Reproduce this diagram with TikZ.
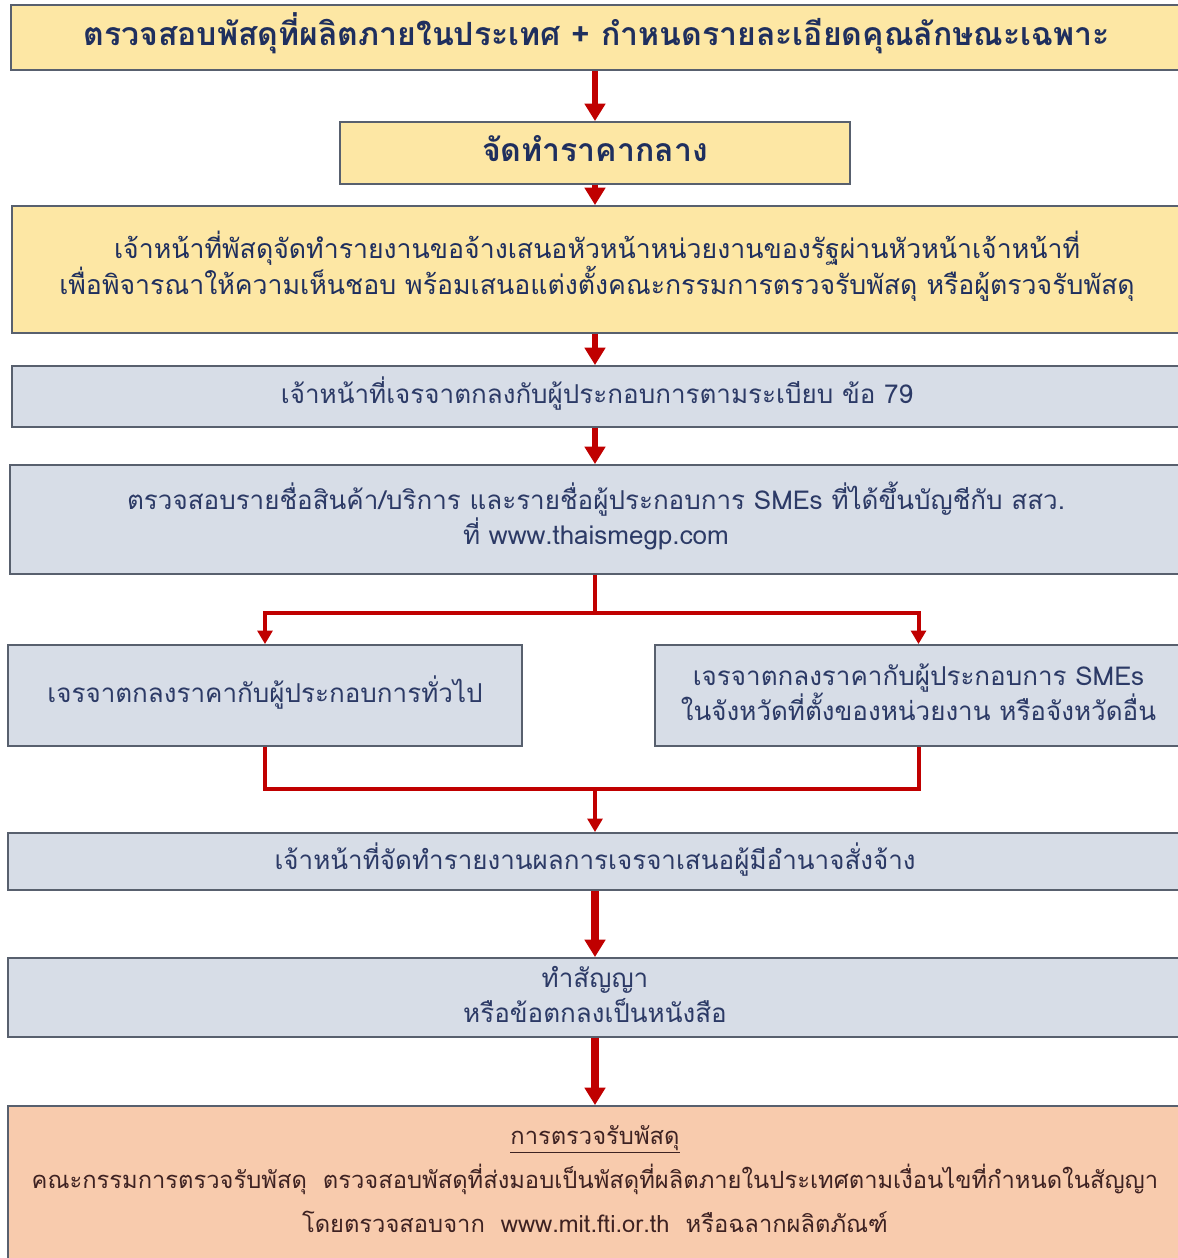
\documentclass[tikz,border=0pt]{standalone}
\usepackage{fontspec}
\setmainfont[Script=Thai]{Loma}
\usetikzlibrary{fit,arrows.meta}
\definecolor{boxline}{HTML}{58606E}
\definecolor{yfill}{HTML}{FDE7A4}
\definecolor{bfill}{HTML}{D7DDE7}
\definecolor{pfill}{HTML}{F8CBAD}
\definecolor{navy}{HTML}{1F2F5E}
\definecolor{slate}{HTML}{2C3A66}
\definecolor{brown}{HTML}{3E2222}
\definecolor{arrred}{HTML}{C00000}
\tikzset{
  boxbase/.style={draw=boxline, line width=1.4pt, inner sep=0pt},
  ybox/.style={boxbase, fill=yfill},
  bbox/.style={boxbase, fill=bfill},
  pbox/.style={boxbase, fill=pfill},
  txt/.style={align=center, inner sep=0pt, text=slate, font=\fontsize{19.5}{26}\selectfont, yshift=2.5pt},
  titletxt/.style={txt, text=navy, font=\fontsize{24}{28}\selectfont\bfseries, yshift=1pt},
  arr/.style={draw=arrred, line width=4.5pt, -{Triangle[width=15pt,length=13pt]}},
  thinarr/.style={draw=arrred, line width=3pt, -{Triangle[width=11pt,length=10pt]}},
  thinline/.style={draw=arrred, line width=3pt},
}
\begin{document}
\begin{tikzpicture}[x=0.75pt,y=-0.75pt]
\useasboundingbox (0,0) rectangle (1178,1258);
\fill[white] (0,0) rectangle (1178,1258);

\node[ybox, fit={(11,5)(1182,70)}] (b1) {};
\node[titletxt] (t1) at (b1.center)
  {ตรวจสอบพัสดุที่ผลิตภายในประเทศ + กำหนดรายละเอียดคุณลักษณะเฉพาะ};
\node[ybox, fit={(340,122)(850,184)}] (b2) {};
\node[titletxt] (t2) at (b2.center) {จัดทำราคากลาง};
\node[ybox, fit={(12,206)(1182,333)}] (b3) {};
\node[txt, text=navy, font=\fontsize{20}{26}\selectfont] (t3) at (b3.center)
  {เจ้าหน้าที่พัสดุจัดทำรายงานขอจ้างเสนอหัวหน้าหน่วยงานของรัฐผ่านหัวหน้าเจ้าหน้าที่\\
   เพื่อพิจารณาให้ความเห็นชอบ พร้อมเสนอแต่งตั้งคณะกรรมการตรวจรับพัสดุ หรือผู้ตรวจรับพัสดุ};
\node[bbox, fit={(12,366)(1182,427)}] (b4) {};
\node[txt] (t4) at (b4.center)
  {เจ้าหน้าที่เจรจาตกลงกับผู้ประกอบการตามระเบียบ ข้อ 79};
\node[bbox, fit={(10,465)(1182,574)}] (b5) {};
\node[txt] (t5) at (b5.center)
  {ตรวจสอบรายชื่อสินค้า/บริการ และรายชื่อผู้ประกอบการ SMEs ที่ได้ขึ้นบัญชีกับ สสว.\\
   ที่ www.thaismegp.com};
\node[bbox, fit={(8,645)(522,746)}] (b6l) {};
\node[txt] (t6l) at (b6l.center) {เจรจาตกลงราคากับผู้ประกอบการทั่วไป};
\node[bbox, fit={(655,645)(1182,746)}] (b6r) {};
\node[txt, font=\fontsize{19.5}{25}\selectfont, yshift=0pt] (t6r) at (b6r.center)
  {เจรจาตกลงราคากับผู้ประกอบการ SMEs\\ ในจังหวัดที่ตั้งของหน่วยงาน หรือจังหวัดอื่น};
\node[bbox, fit={(8,833)(1182,890)}] (b7) {};
\node[txt, yshift=-1pt] (t7) at (b7.center)
  {เจ้าหน้าที่จัดทำรายงานผลการเจรจาเสนอผู้มีอำนาจสั่งจ้าง};
\node[bbox, fit={(8,958)(1182,1037)}] (b8) {};
\node[txt] (t8) at (b8.center)
  {ทำสัญญา\\ หรือข้อตกลงเป็นหนังสือ};
\node[pbox, fit={(8,1106)(1182,1262)}] (b9) {};
\node[txt, text=brown, font=\fontsize{17.8}{33}\selectfont, yshift=1.5pt] (t9) at (b9.center)
  {\underline{การตรวจรับพัสดุ}\\
   คณะกรรมการตรวจรับพัสดุ~~ตรวจสอบพัสดุที่ส่งมอบเป็นพัสดุที่ผลิตภายในประเทศตามเงื่อนไขที่กำหนดในสัญญา\\
   โดยตรวจสอบจาก~~www.mit.fti.or.th~~หรือฉลากผลิตภัณฑ์};

\draw[arr] (b1.south -| b2.north) -- (b2.north);
\draw[arr] (b2.south) -- (b3.north -| b2.south);
\draw[arr] (b3.south -| b2.south) -- (b4.north -| b2.south);
\draw[arr] (b4.south -| b2.south) -- (b5.north -| b2.south);

\coordinate (sp) at (595,613);
\coordinate (mg) at (595,789);
\draw[thinline] (b5.south -| sp) -- (sp);
\draw[thinarr] (sp) -| (b6l.north);
\draw[thinarr] (sp) -| (b6r.north);
\draw[thinline] (b6l.south) |- (b6r.south |- mg) -- (b6r.south);
\draw[thinarr] (mg) -- (b7.north -| mg);

\draw[arr, line width=5.5pt] (b7.south -| mg) -- (b8.north -| mg);
\draw[arr, line width=5.5pt] (b8.south -| mg) -- (b9.north -| mg);
\end{tikzpicture}
\end{document}
